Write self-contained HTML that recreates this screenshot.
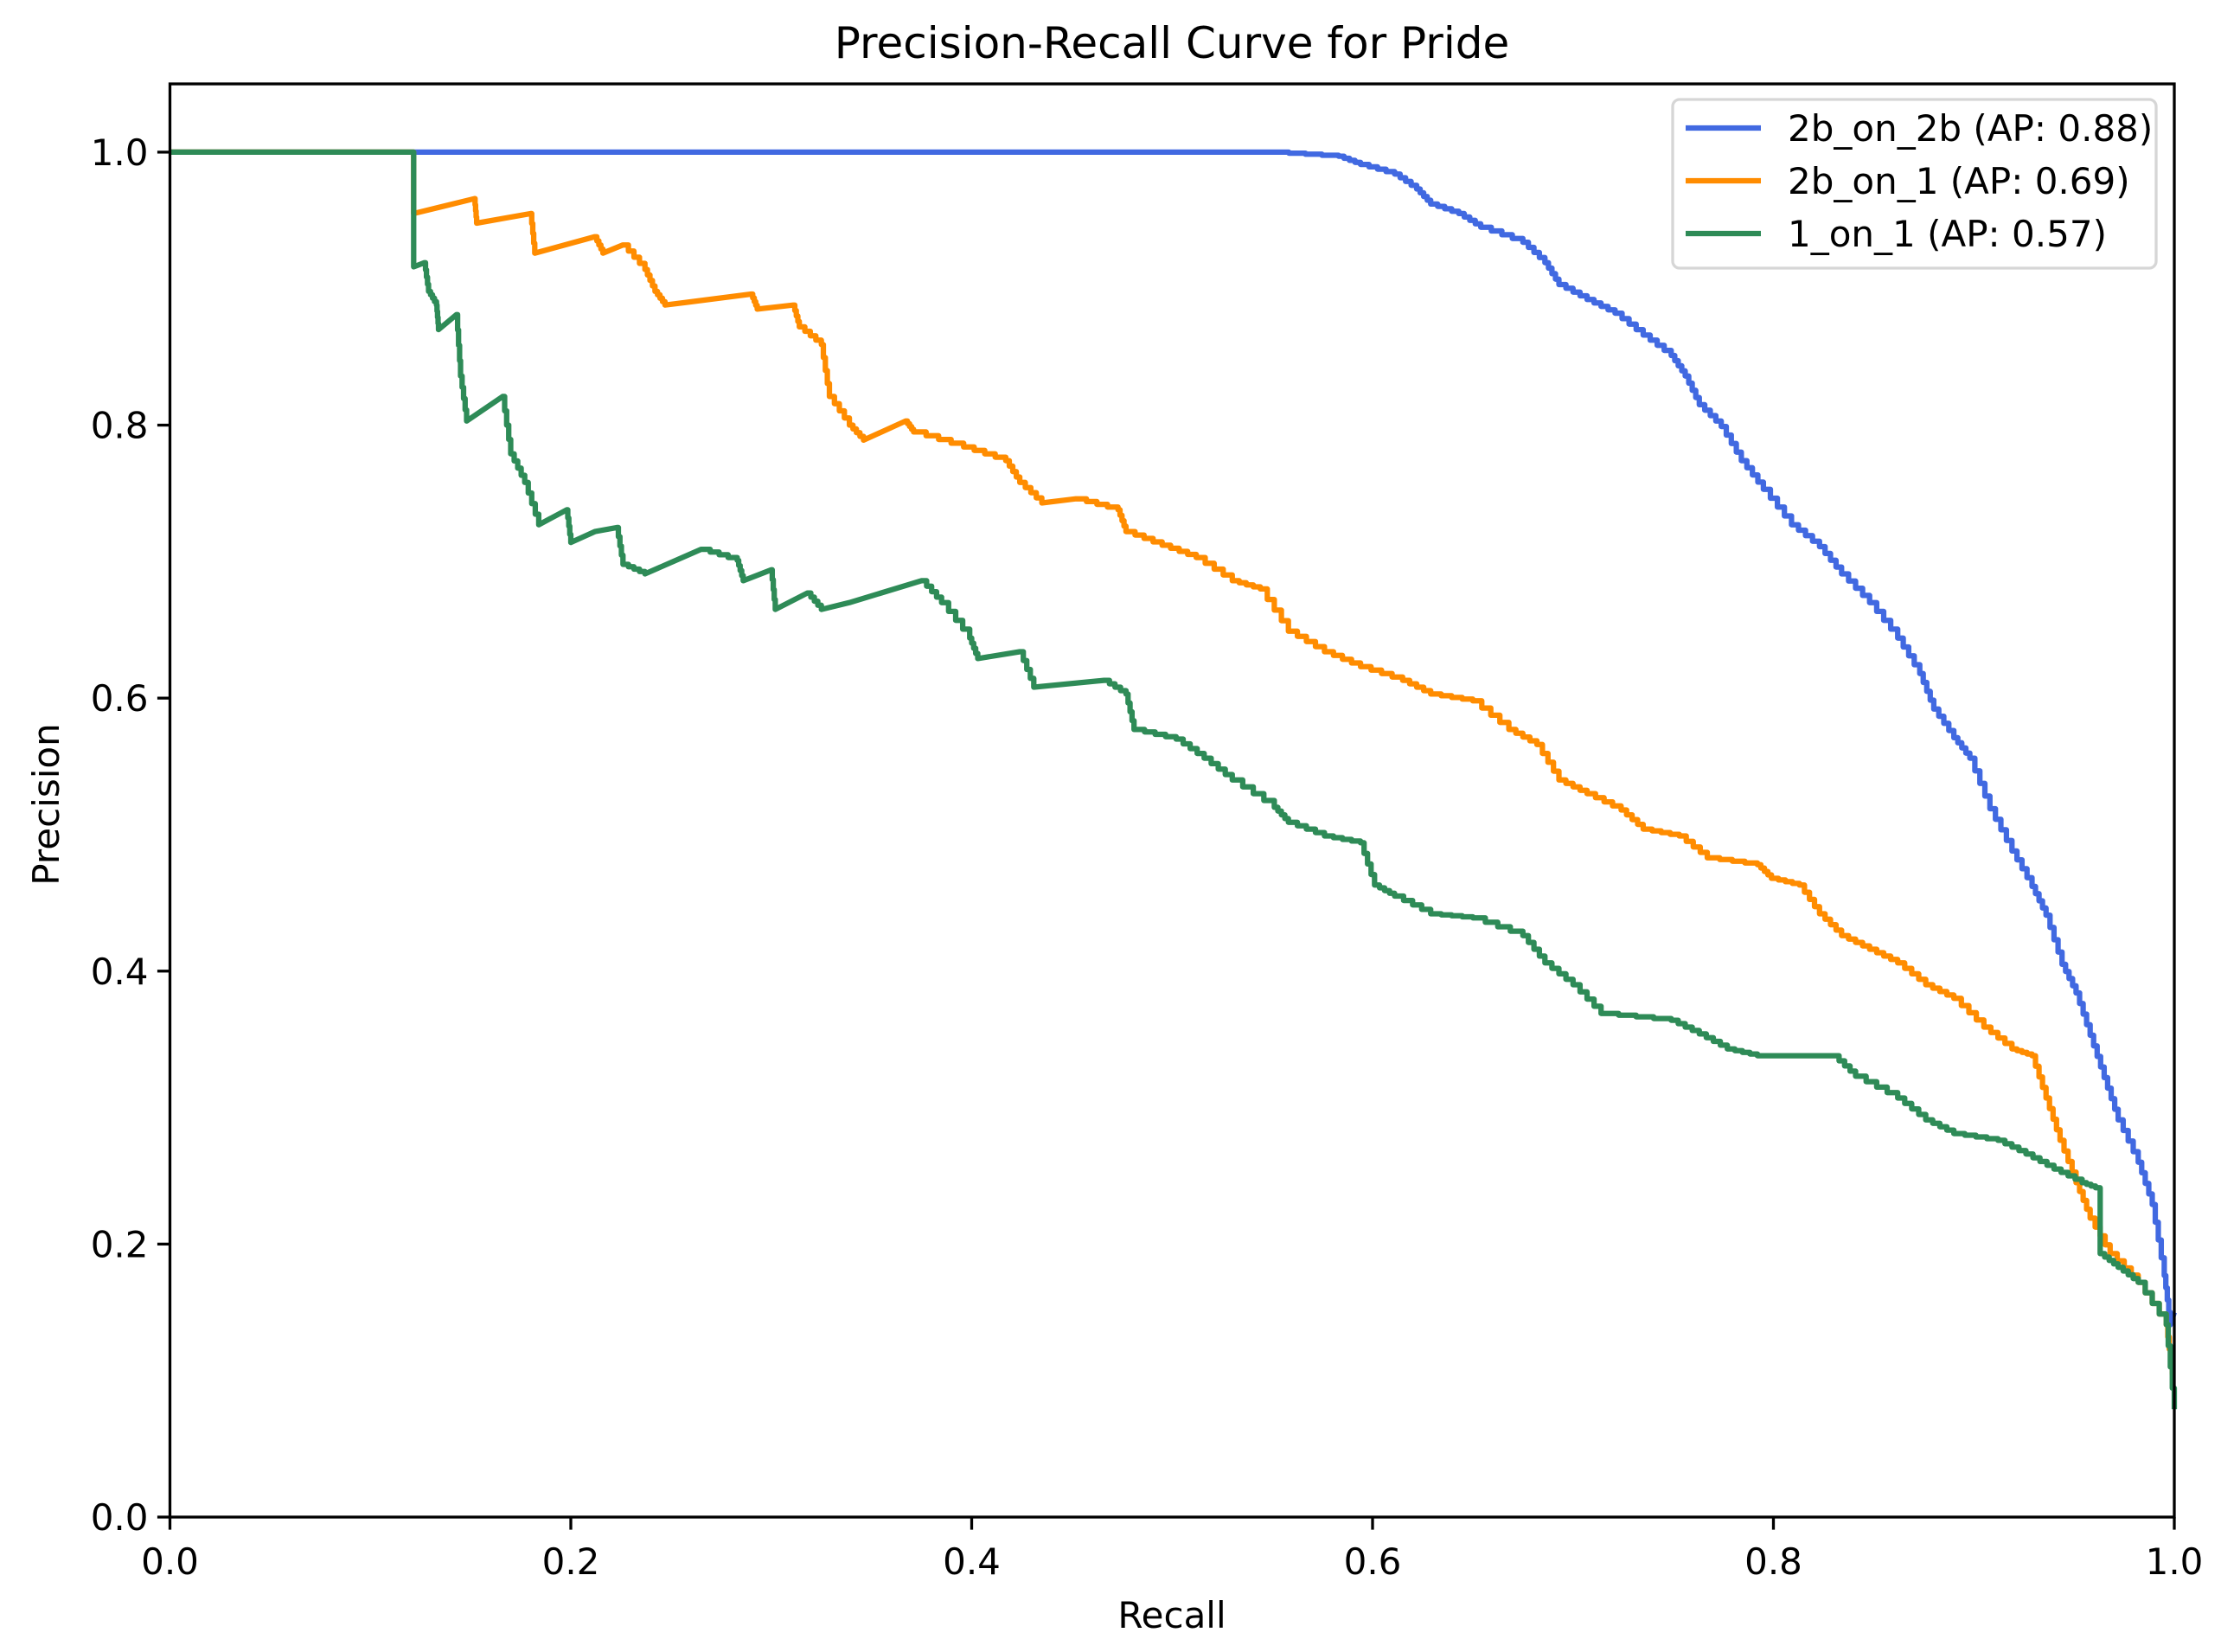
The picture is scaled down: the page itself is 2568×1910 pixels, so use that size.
<!DOCTYPE html>
<html><head><meta charset="utf-8"><style>
html,body{margin:0;padding:0;background:#fff}
svg{display:block}
text{font-family:"DejaVu Sans","Liberation Sans",sans-serif;fill:#000}
</style></head><body>
<svg id="chart" width="2568" height="1910" viewBox="0 0 2568 1910" xmlns="http://www.w3.org/2000/svg">
<rect width="2568" height="1910" fill="#fff"/>
<g id="plot"></g>
<text x="1355" y="67" font-size="50" text-anchor="middle">Precision-Recall Curve for Pride</text>
<text x="1355" y="1882" font-size="42" text-anchor="middle">Recall</text>
<text x="0" y="0" font-size="42" text-anchor="middle" transform="translate(68,930) rotate(-90)">Precision</text>
</svg>
<script>
const xTicks=[0,0.2,0.4,0.6,0.8,1.0];
const xTickLabels=["0.0","0.2","0.4","0.6","0.8","1.0"];
const yTicks=[0,0.2,0.4,0.6,0.8,1.0];
const yTickLabels=["0.0","0.2","0.4","0.6","0.8","1.0"];
const seriesNames=["2b_on_2b (AP: 0.88)","2b_on_1 (AP: 0.69)","1_on_1 (AP: 0.57)"];
const blueRecall=[0,0.550,0.583,0.594,0.611,0.622,0.629,0.643,0.654,0.675,0.686,0.693,0.707,0.721,0.735,0.749,0.756,0.763,0.774,0.784,0.795,0.809,0.823,0.834,0.848,0.862,0.873,0.880,0.890,0.898,0.908,0.919,0.929,0.936,0.944,0.951,0.958,0.965,0.972,0.982,0.989,0.995,0.998,1.0];
const bluePrecision=[1,1,0.997,0.991,0.984,0.973,0.962,0.955,0.945,0.934,0.919,0.903,0.892,0.882,0.866,0.851,0.836,0.815,0.799,0.774,0.753,0.727,0.711,0.691,0.670,0.644,0.618,0.592,0.571,0.556,0.519,0.488,0.462,0.441,0.405,0.384,0.353,0.322,0.291,0.260,0.229,0.177,0.141,0.15];
const orangeRecall=[0,0.1216,0.1216,0.152,0.153,0.180,0.182,0.212,0.216,0.226,0.237,0.242,0.247,0.258,0.290,0.293,0.311,0.314,0.325,0.329,0.339,0.346,0.367,0.371,0.396,0.417,0.424,0.435,0.452,0.473,0.477,0.495,0.512,0.530,0.544,0.558,0.576,0.594,0.615,0.629,0.650,0.668,0.682,0.693,0.707,0.724,0.735,0.753,0.767,0.792,0.799,0.813,0.823,0.834,0.848,0.862,0.876,0.890,0.905,0.919,0.929,0.936,0.943,0.951,0.958,0.968,0.982,0.996,0.999,1.0];
const orangePrecision=[1,1,0.955,0.966,0.948,0.955,0.926,0.938,0.926,0.932,0.914,0.898,0.888,0.890,0.896,0.885,0.888,0.872,0.859,0.821,0.800,0.789,0.803,0.795,0.784,0.774,0.758,0.743,0.746,0.738,0.722,0.712,0.703,0.686,0.680,0.649,0.634,0.623,0.613,0.603,0.598,0.577,0.566,0.540,0.530,0.518,0.504,0.499,0.483,0.478,0.468,0.463,0.442,0.426,0.416,0.406,0.390,0.380,0.359,0.343,0.338,0.307,0.276,0.245,0.219,0.193,0.172,0.141,0.105,0.105];
const greenRecall=[0,0.1216,0.1216,0.127,0.129,0.133,0.134,0.143,0.145,0.148,0.166,0.170,0.177,0.184,0.198,0.200,0.212,0.223,0.226,0.237,0.265,0.283,0.286,0.300,0.302,0.318,0.325,0.339,0.375,0.385,0.399,0.403,0.424,0.431,0.466,0.477,0.481,0.502,0.516,0.530,0.551,0.558,0.576,0.594,0.601,0.611,0.629,0.650,0.675,0.686,0.700,0.714,0.749,0.763,0.777,0.792,0.830,0.841,0.862,0.876,0.890,0.912,0.926,0.940,0.954,0.963,0.963,0.972,0.982,0.996,1.0];
const greenPrecision=[1,1,0.916,0.919,0.898,0.888,0.870,0.881,0.836,0.803,0.821,0.779,0.758,0.727,0.738,0.714,0.722,0.725,0.698,0.691,0.709,0.701,0.686,0.694,0.665,0.677,0.665,0.670,0.686,0.670,0.644,0.629,0.634,0.608,0.613,0.603,0.577,0.570,0.556,0.540,0.520,0.509,0.499,0.494,0.463,0.455,0.442,0.439,0.426,0.406,0.390,0.369,0.364,0.354,0.343,0.338,0.338,0.323,0.307,0.291,0.281,0.276,0.266,0.255,0.245,0.240,0.193,0.183,0.172,0.141,0.079];

const L=196.5,R=2514,T=97,B=1754;
const xs=v=>L+v*(R-L);
const ys=v=>B-v*(B-T)/1.05;
const NS="http://www.w3.org/2000/svg";
const g=document.getElementById('plot');
function mk(tag,attrs){const e=document.createElementNS(NS,tag);for(const k in attrs)e.setAttribute(k,attrs[k]);g.appendChild(e);return e;}

const SUB=4;
const series=[[blueRecall,bluePrecision,"#4169e1","series-2b-on-2b"],[orangeRecall,orangePrecision,"#ff8c00","series-2b-on-1"],[greenRecall,greenPrecision,"#2e8b57","series-1-on-1"]];
series.forEach(s=>{
  const r=s[0],p=s[1];
  let d="M"+xs(r[0]).toFixed(1)+","+ys(p[0]).toFixed(1);
  for(let i=1;i<r.length;i++){
    const x1=xs(r[i-1]),y1=ys(p[i-1]),x2=xs(r[i]),y2=ys(p[i]);
    if(p[i]<p[i-1]){
      for(let k=1;k<=SUB;k++){
        d+=" H"+(x1+(x2-x1)*k/SUB).toFixed(1)+" V"+(y1+(y2-y1)*k/SUB).toFixed(1);
      }
    }else{
      d+=" L"+x2.toFixed(1)+","+y2.toFixed(1);
    }
  }
  const el=mk('path',{d:d,fill:"none",stroke:s[2],"stroke-width":6.25,"stroke-linejoin":"round"});
  
  
});

xTicks.forEach((v,i)=>{
  const t=mk('line',{x1:xs(v),x2:xs(v),y1:B,y2:B+14.6,stroke:"#000","stroke-width":3.3});
  
  
  const tx=mk('text',{x:xs(v),y:B+66,"font-size":42,"text-anchor":"middle"});
  tx.textContent=xTickLabels[i];
  
  
});
yTicks.forEach((v,i)=>{
  const t=mk('line',{x1:L-14.6,x2:L,y1:ys(v),y2:ys(v),stroke:"#000","stroke-width":3.3});
  
  
  const tx=mk('text',{x:L-25,y:ys(v)+15,"font-size":42,"text-anchor":"end"});
  tx.textContent=yTickLabels[i];
  
  
});
const frame=mk('rect',{x:L,y:T,width:R-L,height:B-T,fill:"none",stroke:"#000","stroke-width":3.3});



const lg=mk('rect',{x:1934,y:115,width:559,height:195,rx:8,fill:"#fff","fill-opacity":0.8,stroke:"#d6d6d6","stroke-width":3.3});


series.forEach((s,i)=>{
  const y=148+i*61;
  const l=mk('line',{x1:1949,x2:2036,y1:y,y2:y,stroke:s[2],"stroke-width":6.25});
  
  
  const t=mk('text',{x:2067,y:y+15,"font-size":42});
  t.textContent=seriesNames[i];
  
  
});
</script>
</body></html>
